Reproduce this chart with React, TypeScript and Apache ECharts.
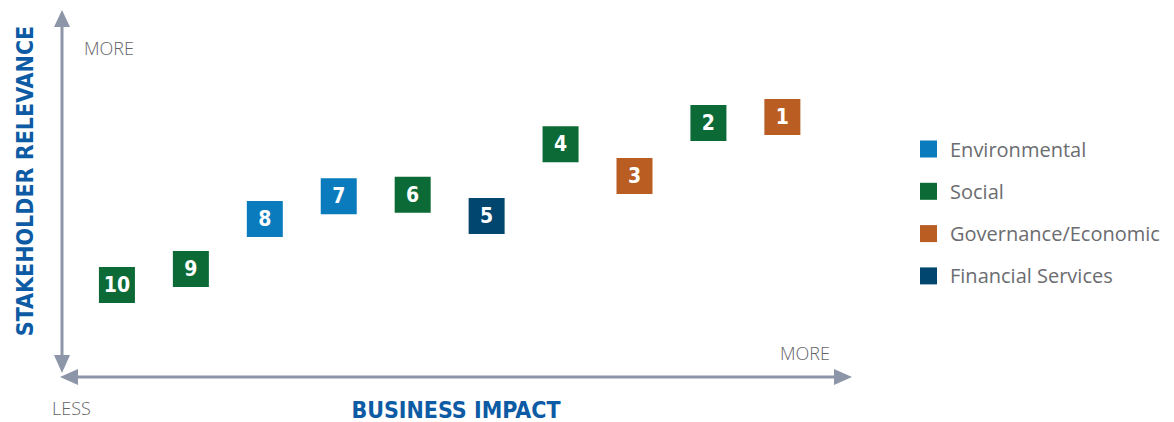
import React, { useEffect, useRef } from "react";
import * as echarts from "echarts";

const topicLabels = ["1", "2", "3", "4", "5", "6", "7", "8", "9", "10"];
const businessImpact = [10, 9, 8, 7, 6, 5, 4, 3, 2, 1];
const stakeholderRelevance = [71.2, 69.6, 55.1, 63.8, 44.1, 49.9, 49.5, 43.3, 29.6, 25.2];
const topicCategory = [
  "Governance/Economic",
  "Social",
  "Governance/Economic",
  "Social",
  "Financial Services",
  "Social",
  "Environmental",
  "Environmental",
  "Social",
  "Social",
];
const categories = ["Environmental", "Social", "Governance/Economic", "Financial Services"];
const categoryColors = ["#0a7bbd", "#0b6a36", "#b95d23", "#00466f"];

const arrowColor = "#8c96a8";
const titleColor = "#0c5ba4";
const grayText = "#636467";
const boldFont = "'DejaVu Sans Condensed', 'DejaVu Sans', sans-serif";

export default function App() {
  const ref = useRef<HTMLDivElement>(null);
  useEffect(() => {
    if (!ref.current) return;
    const chart = echarts.init(ref.current, null, { renderer: "svg" });
    const series = categories.map((cat, ci) => ({
      name: cat,
      type: "scatter",
      symbol: "rect",
      symbolSize: 36,
      itemStyle: { color: categoryColors[ci], opacity: 1 },
      label: {
        show: true,
        position: "inside",
        formatter: (p: any) => p.data[2],
        color: "#ffffff",
        fontFamily: boldFont,
        fontWeight: "bold",
        fontSize: 21,
      },
      data: topicLabels
        .map((t, i) => ({ t, i }))
        .filter(({ i }) => topicCategory[i] === cat)
        .map(({ t, i }) => [businessImpact[i], stakeholderRelevance[i], t]),
    }));
    chart.setOption({
      animation: false,
      grid: { left: 43, top: 12, width: 813.3, height: 365 },
      xAxis: { type: "value", min: 0, max: 11, show: false },
      yAxis: { type: "value", min: 0, max: 100, show: false },
      legend: {
        orient: "vertical",
        left: 915,
        top: 134,
        icon: "rect",
        itemWidth: 17,
        itemHeight: 17,
        itemGap: 22.3,
        selectedMode: false,
        data: categories,
        textStyle: {
          fontFamily: "'Open Sans', sans-serif",
          fontSize: 20,
          color: "#6b6c70",
          lineHeight: 20,
          padding: [0, 0, 0, 8],
        },
      },
      graphic: [
        { type: "line", shape: { x1: 62, y1: 24, x2: 62, y2: 357 }, style: { stroke: arrowColor, lineWidth: 3 } },
        { type: "polygon", shape: { points: [[62, 10], [54, 27], [70, 27]] }, style: { fill: arrowColor } },
        { type: "polygon", shape: { points: [[62, 373], [54, 355], [70, 355]] }, style: { fill: arrowColor } },
        { type: "line", shape: { x1: 76, y1: 377, x2: 836, y2: 377 }, style: { stroke: arrowColor, lineWidth: 3 } },
        { type: "polygon", shape: { points: [[60, 377], [78, 369], [78, 385]] }, style: { fill: arrowColor } },
        { type: "polygon", shape: { points: [[852, 377], [834, 369], [834, 385]] }, style: { fill: arrowColor } },
        {
          type: "text",
          x: 84,
          y: 48,
          style: { text: "MORE", fill: grayText, fontFamily: "'Open Sans', sans-serif", fontWeight: 300, fontSize: 18, verticalAlign: "middle" },
        },
        {
          type: "text",
          x: 830,
          y: 353,
          style: { text: "MORE", fill: grayText, fontFamily: "'Open Sans', sans-serif", fontWeight: 300, fontSize: 18, align: "right", verticalAlign: "middle" },
        },
        {
          type: "text",
          x: 52,
          y: 408,
          style: { text: "LESS", fill: grayText, fontFamily: "'Open Sans', sans-serif", fontWeight: 300, fontSize: 18, verticalAlign: "middle" },
        },
        {
          type: "text",
          x: 456,
          y: 410,
          style: { text: "BUSINESS IMPACT", fill: titleColor, fontFamily: boldFont, fontWeight: "bold", fontSize: 23, align: "center", verticalAlign: "middle" },
        },
        {
          type: "text",
          x: 25,
          y: 181,
          rotation: Math.PI / 2,
          style: { text: "STAKEHOLDER RELEVANCE", fill: titleColor, fontFamily: boldFont, fontWeight: "bold", fontSize: 23, align: "center", verticalAlign: "middle" },
        },
      ],
      series,
    });
    return () => chart.dispose();
  }, []);
  return <div ref={ref} style={{ width: 1174, height: 422, position: "absolute", left: 0, top: 0 }} />;
}
